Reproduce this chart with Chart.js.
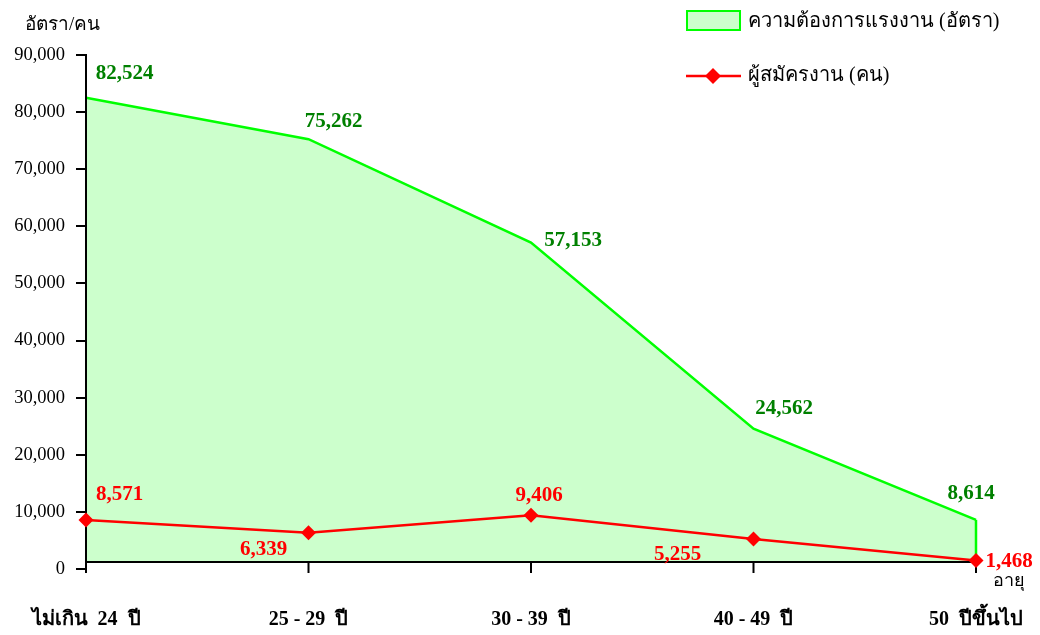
<!DOCTYPE html>
<html>
<head>
<meta charset="utf-8">
<script src="https://cdn.jsdelivr.net/npm/chart.js@4/dist/chart.umd.min.js"></script>
<style>
  html, body { margin: 0; padding: 0; background: #ffffff; }
  #wrap { width: 1040px; height: 635px; position: relative; }
</style>
</head>
<body>
<div id="wrap"><canvas id="c" width="1040" height="635"></canvas></div>
<script>
const categories = ['ไม่เกิน  24  ปี', '25 - 29  ปี', '30 - 39  ปี', '40 - 49  ปี', '50  ปีขึ้นไป'];
const demand = [82524, 75262, 57153, 24562, 8614];
const applicants = [8571, 6339, 9406, 5255, 1468];
const seriesNames = ['ความต้องการแรงงาน (อัตรา)', 'ผู้สมัครงาน (คน)'];
const yMin = 0, yMax = 90000, yStep = 10000;
const yTitle = 'อัตรา/คน';
const xTitle = 'อายุ';

// label placement offsets in px (style only)
const demandLabelOffsets = [[38.5, -24], [25, -18], [42, -2.5], [30.5, -20], [-5, -26]];
const applicantLabelOffsets = [[33.5, -25], [-45, 17], [8, -20], [-76, 16], [33, 1]];
const AXIS_LIFT = 7; // x-axis line sits slightly above the zero line in the reference

const SERIF = '"Liberation Serif", "Times New Roman", "DejaVu Serif", serif';
const fmt = v => v.toLocaleString('en-US');

const extrasPlugin = {
  id: 'extras',
  afterDatasetDraw(chart, args) {
    if (args.index !== 1) return;
    const ctx = chart.ctx;
    const ca = chart.chartArea;
    const xs = chart.scales.x;
    const ys = chart.scales.y;
    const y0 = ys.getPixelForValue(0);
    const axisY = y0 - AXIS_LIFT;
    const meta = args.meta;
    const last = meta.data[meta.data.length - 1];
    ctx.save();
    // clear fill below the drawn x-axis line
    ctx.fillStyle = '#ffffff';
    ctx.fillRect(ca.left + 1, axisY + 1, ca.right - ca.left + 4, y0 - axisY + 2);
    // right closing edge of area
    ctx.strokeStyle = '#00FF00';
    ctx.lineWidth = 2.5;
    ctx.beginPath();
    ctx.moveTo(last.x, last.y);
    ctx.lineTo(last.x, axisY);
    ctx.stroke();
    // x-axis line and ticks
    ctx.strokeStyle = '#000000';
    ctx.lineWidth = 2;
    ctx.beginPath();
    ctx.moveTo(ca.left - 1, axisY);
    ctx.lineTo(ca.right + 1, axisY);
    ctx.stroke();
    for (let i = 0; i < categories.length; i++) {
      const px = xs.getPixelForTick(i);
      ctx.beginPath();
      ctx.moveTo(px, axisY);
      ctx.lineTo(px, y0 + 4);
      ctx.stroke();
    }
    // y-axis line redrawn over the fill
    ctx.beginPath();
    ctx.moveTo(ca.left, ys.getPixelForValue(yMax) - 1);
    ctx.lineTo(ca.left, y0 + 4);
    ctx.stroke();
    ctx.restore();
  },
  afterDraw(chart) {
    const ctx = chart.ctx;
    ctx.save();
    ctx.font = 'bold 21px ' + SERIF;
    ctx.textAlign = 'center';
    ctx.textBaseline = 'middle';
    const mDemand = chart.getDatasetMeta(1);
    ctx.fillStyle = '#008000';
    mDemand.data.forEach((p, i) => {
      const o = demandLabelOffsets[i];
      ctx.fillText(fmt(demand[i]), p.x + o[0], p.y + o[1]);
    });
    const mApp = chart.getDatasetMeta(0);
    ctx.fillStyle = '#FF0000';
    mApp.data.forEach((p, i) => {
      const o = applicantLabelOffsets[i];
      ctx.fillText(fmt(applicants[i]), p.x + o[0], p.y + o[1]);
    });

    ctx.fillStyle = '#000000';
    ctx.font = '19px ' + SERIF;
    ctx.textAlign = 'left';
    ctx.fillText(yTitle, 25, 25);
    ctx.font = '18px ' + SERIF;
    ctx.fillText(xTitle, chart.chartArea.right + 17, chart.chartArea.bottom + 12);

    const lx = 686, ly1 = 21, ly2 = 76;
    ctx.fillStyle = '#CCFFCC';
    ctx.fillRect(687, 11, 53, 19);
    ctx.strokeStyle = '#00FF00';
    ctx.lineWidth = 2;
    ctx.strokeRect(687, 11, 53, 19);
    ctx.strokeStyle = '#FF0000';
    ctx.lineWidth = 2.5;
    ctx.beginPath();
    ctx.moveTo(lx, ly2);
    ctx.lineTo(741, ly2);
    ctx.stroke();
    ctx.fillStyle = '#FF0000';
    ctx.beginPath();
    ctx.moveTo(713, ly2 - 8);
    ctx.lineTo(721, ly2);
    ctx.lineTo(713, ly2 + 8);
    ctx.lineTo(705, ly2);
    ctx.closePath();
    ctx.fill();
    ctx.fillStyle = '#000000';
    ctx.font = '20px ' + SERIF;
    ctx.textAlign = 'left';
    ctx.fillText(seriesNames[0], 748, ly1 + 1);
    ctx.fillText(seriesNames[1], 748, ly2);
    ctx.restore();
  }
};

new Chart(document.getElementById('c'), {
  type: 'line',
  data: {
    labels: categories,
    datasets: [
      {
        label: seriesNames[1],
        data: applicants,
        borderColor: '#FF0000',
        backgroundColor: '#FF0000',
        borderWidth: 2.5,
        pointStyle: 'rectRot',
        pointRadius: 7.5,
        pointBackgroundColor: '#FF0000',
        pointBorderWidth: 0,
        fill: false,
        tension: 0,
        clip: false,
        order: 1
      },
      {
        label: seriesNames[0],
        data: demand,
        borderColor: '#00FF00',
        backgroundColor: '#CCFFCC',
        borderWidth: 2.5,
        pointRadius: 0,
        fill: 'origin',
        tension: 0,
        clip: false,
        order: 2
      }
    ]
  },
  options: {
    responsive: false,
    animation: false,
    devicePixelRatio: 1,
    layout: { padding: { top: 55, right: 64, left: 0, bottom: 0 } },
    plugins: {
      legend: { display: false },
      tooltip: { enabled: false },
      title: { display: false }
    },
    scales: {
      x: {
        type: 'category',
        offset: false,
        border: { display: false },
        grid: { display: false, drawTicks: false },
        ticks: {
          color: '#000000',
          font: { family: SERIF, size: 20, weight: 'bold' },
          padding: 39,
          maxRotation: 0,
          autoSkip: false
        },
        afterFit(s) { s.height = 66; s.paddingLeft = 0; s.paddingRight = 0; }
      },
      y: {
        min: yMin,
        max: yMax,
        border: { display: true, color: '#000000', width: 2 },
        grid: { display: true, drawOnChartArea: false, drawTicks: true, tickLength: 10, color: '#000000', lineWidth: 2 },
        ticks: {
          stepSize: yStep,
          color: '#000000',
          font: { family: SERIF, size: 18.5 },
          padding: 11,
          callback: v => fmt(v)
        },
        afterFit(s) { s.width = 86; s.paddingTop = 0; s.paddingBottom = 0; }
      }
    }
  },
  plugins: [extrasPlugin]
});
</script>
</body>
</html>
